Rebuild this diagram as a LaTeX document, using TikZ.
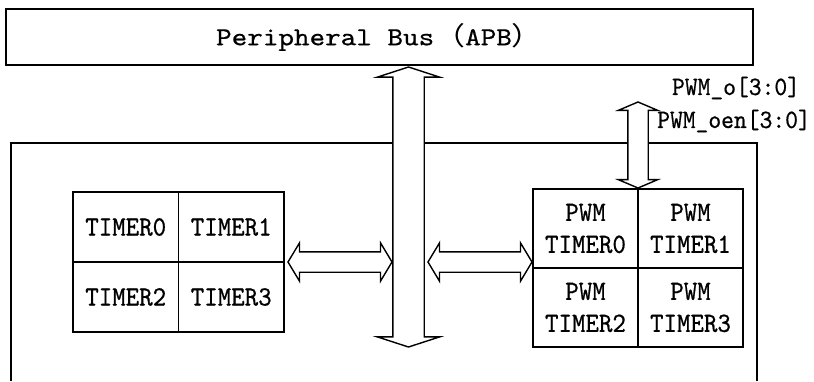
\documentclass[tikz,border=0pt]{standalone}
\usepackage{fontspec}
\usetikzlibrary{positioning, calc, shapes.arrows}
\newfontfamily\busfont{lmmono10-regular.otf}[FakeStretch=1.15, FakeBold=0.6]
\newfontfamily\cellfont{lmmono10-regular.otf}[FakeStretch=0.92, FakeBold=0.6]
\newfontfamily\cjk{Noto Sans CJK SC}[FakeStretch=1.2]

\begin{document}
\begin{tikzpicture}[
    x=1pt, y=-1pt,
    every node/.style={inner sep=0pt, outer sep=0pt},
    busbox/.style={
      rectangle, draw, line width=1.6pt,
      minimum width=747pt, minimum height=56pt,
      font=\busfont\fontsize{25.8}{30}\selectfont
    },
    timercell/.style={
      rectangle, draw, line width=1.6pt,
      minimum width=105.5pt, minimum height=70pt,
      font=\cellfont\fontsize{27.9}{32}\selectfont
    },
    pwmcell/.style={timercell, minimum width=105pt, minimum height=79pt, align=center},
    chipframe/.style={line width=1.2pt},
    fatarrow/.style={double arrow, draw, fill=white, line width=1.4pt},
    busfat/.style={
      fatarrow, shape border rotate=90, inner sep=15pt,
      minimum height=280pt,
      double arrow head extend=15.5pt, double arrow tip angle=144
    },
    linkfat/.style={
      fatarrow, inner sep=9.5pt, minimum height=104pt,
      double arrow head extend=9pt, double arrow tip angle=118
    },
    pinfat/.style={
      fatarrow, shape border rotate=90, inner sep=9.5pt,
      minimum height=86pt,
      double arrow head extend=9.5pt, double arrow tip angle=134
    },
    sigtext/.style={font=\cellfont\fontsize{26.5}{30}\selectfont}
  ]
  \useasboundingbox (0,0) rectangle (814,381);

  % ===== bus and chip frame =====
  \node[busbox] (bus) at (379.5,37) {Peripheral Bus{\cjk （}APB{\cjk ）}};
  \draw[chipframe] (11,381) |- (757,143) -- (757,381);

  % ===== timer block =====
  \node[timercell] (t0) at (125.75,227) {TIMER0};
  \node[timercell, right=0pt of t0] (t1) {TIMER1};
  \node[timercell, below=0pt of t0] (t2) {TIMER2};
  \node[timercell, right=0pt of t2] (t3) {TIMER3};

  % ===== pwm timer block =====
  \node[pwmcell] (p0) at (585.5,228.5) {PWM\\TIMER0};
  \node[pwmcell, right=0pt of p0] (p1) {PWM\\TIMER1};
  \node[pwmcell, below=0pt of p0] (p2) {PWM\\TIMER2};
  \node[pwmcell, right=0pt of p2] (p3) {PWM\\TIMER3};

  % ===== fat arrows =====
  \node[busfat] (busarrow) at (408.5,207) {};
  \node[linkfat, right=4pt of t1.south east] (lnk1) {};
  \node[linkfat, anchor=east] (lnk2) at ($(lnk1 -| p0.west)+(-1,0)$) {};
  \node[pinfat] (pins) at ($(p0.north east)+(0,-44)$) {};

  % ===== pin labels =====
  \node[sigtext] (pwmo) at (736,88) {PWM\_o[3:0]};
  \node[sigtext] (pwmoen) at (734,121) {PWM\_oen[3:0]};

\end{tikzpicture}
\end{document}
